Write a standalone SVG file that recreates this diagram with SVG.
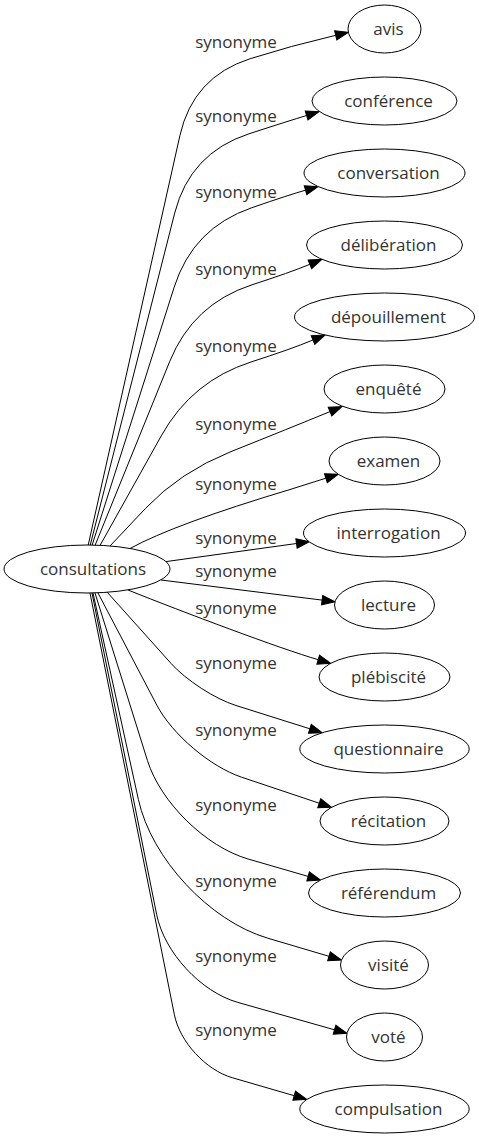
<svg xmlns="http://www.w3.org/2000/svg" width="479" height="1139" viewBox="0 0 479 1139">
<style>
.node ellipse{fill:#fff;stroke:#000;stroke-width:1}
.node text{font-family:"Open Sans","DejaVu Sans",sans-serif;font-size:17px;fill:#333;text-anchor:middle}
.edges path{fill:none;stroke:#000;stroke-width:1;marker-end:url(#ah)}
.lbl{font-family:"Open Sans","DejaVu Sans",sans-serif;font-size:17px;fill:#333;text-anchor:middle}
</style>
<defs>
<marker id="ah" markerWidth="14" markerHeight="10" refX="0" refY="4.7" orient="auto" markerUnits="userSpaceOnUse" overflow="visible">
<path d="M0,0 L13,4.7 L0,9.4 z" fill="#000" stroke="#000" stroke-width="1"/>
</marker>
</defs>
<rect width="479" height="1139" fill="#fff"/>
<g class="edges" id="edges">
<path d="M88,546 L179.9,135.6 Q193,77 250.2,58.7 Q290,46 335.7,35.3"/>
<path d="M90,546 L174.7,213.1 Q190,153 249,133.8 Q290,120.5 306.6,115.5"/>
<path d="M92,545.5 L174.2,287.1 Q193,228 251.6,207.8 Q290,194.5 305.5,190.2"/>
<path d="M95,545.5 L169.7,361.5 Q193,304 252,284.8 Q290,272.5 309.9,264.3"/>
<path d="M100,545.5 L161.7,435.1 Q192,381 251,362 Q290,349.5 313,340"/>
<path d="M110,546 L145.6,508.3 Q180,472 231,451.6 Q290,428 330,411.6"/>
<path d="M130,548.5 Q174,524.3 290,489.5 L325.9,478.2"/>
<path d="M166,561.6 L296.5,543.5"/>
<path d="M161,580 L322.1,600.1"/>
<path d="M128,590 C183.7,612.3 279.8,648.5 318.2,659.7"/>
<path d="M107,592 L171.2,663.6 C185.9,680 215,699 236,705.5 L309.9,728.8"/>
<path d="M98,593 L156.8,705.1 C172.1,734.3 210.3,766.7 241.6,777.2 L319.2,803.2"/>
<path d="M95,593 L147.4,760.4 C160.5,802.4 205.8,846.8 248.1,859 L308.1,876.4"/>
<path d="M93,593 L138.4,799.5 C151.3,858.6 209.5,920.9 267.5,938.1 L329,956.3"/>
<path d="M92,593 L156.7,914.7 C164.3,952.4 200.8,991.9 237.8,1002.4 L334.5,1029.8"/>
<path d="M90,593 L174.4,1014.8 C179.8,1041.8 205.8,1070 232.2,1077.7 L294.2,1095.7"/>
</g>
<g id="labels">
<text class="lbl" x="236" y="48">synonyme</text>
<text class="lbl" x="236" y="122">synonyme</text>
<text class="lbl" x="236" y="198">synonyme</text>
<text class="lbl" x="236" y="275">synonyme</text>
<text class="lbl" x="236" y="352">synonyme</text>
<text class="lbl" x="236" y="430">synonyme</text>
<text class="lbl" x="236" y="490">synonyme</text>
<text class="lbl" x="236" y="544">synonyme</text>
<text class="lbl" x="236" y="577">synonyme</text>
<text class="lbl" x="236" y="614">synonyme</text>
<text class="lbl" x="236" y="669">synonyme</text>
<text class="lbl" x="236" y="736">synonyme</text>
<text class="lbl" x="236" y="811">synonyme</text>
<text class="lbl" x="236" y="887">synonyme</text>
<text class="lbl" x="236" y="962">synonyme</text>
<text class="lbl" x="236" y="1036">synonyme</text>
</g>
<g class="node" id="n-consultations"><ellipse cx="87" cy="569" rx="83" ry="24"/><text x="93" y="575">consultations</text></g>
<g class="node" id="n-avis"><ellipse cx="384.5" cy="29" rx="36.5" ry="24"/><text x="388.5" y="35">avis</text></g>
<g class="node" id="n-conference"><ellipse cx="384.5" cy="101" rx="72.5" ry="24"/><text x="388.5" y="107">conférence</text></g>
<g class="node" id="n-conversation"><ellipse cx="384.5" cy="173" rx="80.5" ry="24"/><text x="388.5" y="179">conversation</text></g>
<g class="node" id="n-deliberation"><ellipse cx="384.5" cy="245" rx="78" ry="24"/><text x="388.5" y="251">délibération</text></g>
<g class="node" id="n-depouillement"><ellipse cx="384.5" cy="317" rx="90" ry="24"/><text x="388.5" y="323">dépouillement</text></g>
<g class="node" id="n-enquete"><ellipse cx="384.5" cy="389" rx="60.5" ry="24"/><text x="388.5" y="395">enquêté</text></g>
<g class="node" id="n-examen"><ellipse cx="384.5" cy="461" rx="55.5" ry="24"/><text x="388.5" y="467">examen</text></g>
<g class="node" id="n-interrogation"><ellipse cx="384.5" cy="533" rx="81" ry="24"/><text x="388.5" y="539">interrogation</text></g>
<g class="node" id="n-lecture"><ellipse cx="384.5" cy="605" rx="50" ry="24"/><text x="388.5" y="611">lecture</text></g>
<g class="node" id="n-plebiscite"><ellipse cx="384.5" cy="677" rx="65.5" ry="24"/><text x="388.5" y="683">plébiscité</text></g>
<g class="node" id="n-questionnaire"><ellipse cx="384.5" cy="749" rx="84.7" ry="24"/><text x="388.5" y="755">questionnaire</text></g>
<g class="node" id="n-recitation"><ellipse cx="384.5" cy="821" rx="64.5" ry="24"/><text x="388.5" y="827">récitation</text></g>
<g class="node" id="n-referendum"><ellipse cx="384.5" cy="893" rx="76" ry="24"/><text x="388.5" y="899">référendum</text></g>
<g class="node" id="n-visite"><ellipse cx="384.5" cy="965" rx="44" ry="24"/><text x="388.5" y="971">visité</text></g>
<g class="node" id="n-vote"><ellipse cx="384.5" cy="1037" rx="38" ry="24"/><text x="388.5" y="1043">voté</text></g>
<g class="node" id="n-compulsation"><ellipse cx="384.5" cy="1109" rx="84.7" ry="24"/><text x="388.5" y="1115">compulsation</text></g>
</svg>
